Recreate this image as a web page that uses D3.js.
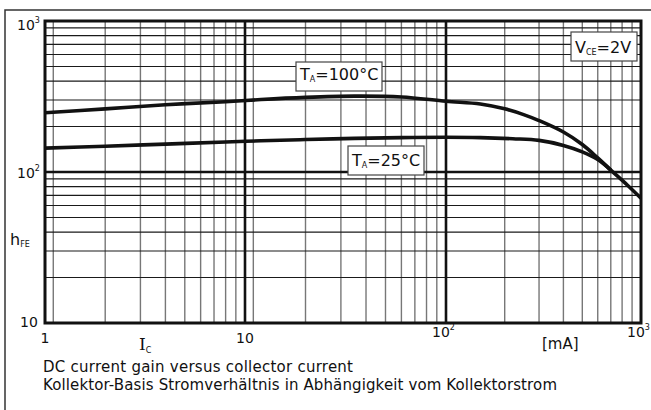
<!DOCTYPE html>
<html><head><meta charset="utf-8">
<script src="https://cdn.jsdelivr.net/npm/d3@7"></script>
<style>body{margin:0;background:#fff}svg{display:block}text{font-family:"DejaVu Sans",Verdana,sans-serif;fill:#111}</style>
</head><body>
<svg id="c" width="651" height="410"></svg>
<script>
// Data
const currentMA = [1, 2, 4, 8, 12, 20, 35, 60, 100, 150, 200, 250, 300, 400, 500, 600, 700, 850, 1000];
const hfe100C   = [247, 262, 279, 292, 302, 312, 318, 314, 294, 282, 262, 240, 219, 184, 152, 124, 103, 82, 67];
const current25 = [1, 2, 4, 8, 12, 20, 35, 60, 100, 150, 220, 300, 400, 500, 600, 700];
const hfe25C    = [144, 148, 153, 158, 161, 164, 167, 169, 170, 169, 166, 162, 150, 136, 121, 103];
const xMajor = [10, 100];
const xMinor = [1.1, 2, 3, 4, 5, 6, 7, 8, 9, 11, 20, 30, 40, 50, 60, 70, 80, 90, 200, 300, 400, 500, 600, 700, 800, 900];
const yMajor = [100];
const yMinor = [20, 30, 40, 50, 60, 70, 80, 90, 200, 300, 400, 500, 600, 700, 800, 900];

const svg = d3.select("#c");
const x = d3.scaleLog().domain([1, 10, 100, 1000]).range([45, 245, 446, 641]);
const y = d3.scaleLog().domain([10, 1000]).range([323, 21]);
const L = 45, R = 641, T = 21, B = 323;

// outer frame
svg.append("rect").attr("x", 5).attr("y", 10).attr("width", 700).attr("height", 460)
  .attr("fill", "none").attr("stroke", "#333").attr("stroke-width", 1.5);

const g = svg.append("g");
g.selectAll(".vmin").data(xMinor).join("line")
  .attr("x1", d => x(d)).attr("x2", d => x(d)).attr("y1", T).attr("y2", B)
  .attr("stroke", "#777").attr("stroke-width", 1.4);
g.selectAll(".hmin").data(yMinor).join("line")
  .attr("x1", L).attr("x2", R).attr("y1", d => y(d)).attr("y2", d => y(d))
  .attr("stroke", "#1a1a1a").attr("stroke-width", 1.1);
g.selectAll(".vmaj").data(xMajor).join("line")
  .attr("x1", d => x(d)).attr("x2", d => x(d)).attr("y1", T).attr("y2", B)
  .attr("stroke", "#111").attr("stroke-width", 2.6);
g.selectAll(".hmaj").data(yMajor).join("line")
  .attr("x1", L).attr("x2", R).attr("y1", d => y(d)).attr("y2", d => y(d))
  .attr("stroke", "#111").attr("stroke-width", 2.6);

// curves
svg.append("clipPath").attr("id", "pc").append("rect")
  .attr("x", L).attr("y", T).attr("width", R - L).attr("height", B - T);
const line = d3.line().x(d => x(d[0])).y(d => y(d[1])).curve(d3.curveCatmullRom.alpha(0.5));
const cg = svg.append("g").attr("clip-path", "url(#pc)");
cg.append("path").datum(currentMA.map((c, i) => [c, hfe100C[i]])).attr("d", line)
  .attr("fill", "none").attr("stroke", "#111").attr("stroke-width", 3.6);
cg.append("path").datum(current25.map((c, i) => [c, hfe25C[i]])).attr("d", line)
  .attr("fill", "none").attr("stroke", "#111").attr("stroke-width", 3.6);

// plot border
svg.append("rect").attr("x", L).attr("y", T).attr("width", R - L).attr("height", B - T)
  .attr("fill", "none").attr("stroke", "#111").attr("stroke-width", 3);

// Label boxes
function box(bx, by, bw, bh) {
  svg.append("rect").attr("x", bx).attr("y", by).attr("width", bw).attr("height", bh)
    .attr("fill", "#fff").attr("stroke", "#444").attr("stroke-width", 1.2);
}
function sub(tx, ty, main, s, rest, fs) {
  const t = svg.append("text").attr("x", tx).attr("y", ty).attr("font-size", fs);
  t.append("tspan").text(main);
  t.append("tspan").attr("font-size", fs * 0.5).attr("dy", 2).text(s);
  t.append("tspan").attr("dy", -2).text(rest);
  return t;
}
box(296, 62, 86, 29); sub(300, 80, "T", "A", "=100°C", 16);
box(348, 146, 76, 29); sub(352, 166, "T", "A", "=25°C", 16);
box(571, 32, 66, 29); sub(575, 53, "V", "CE", "=2V", 16);

// y tick labels
function pow(tx, ty, exp) {
  const t = svg.append("text").attr("x", tx).attr("y", ty).attr("font-size", 14);
  t.append("tspan").text("10");
  if (exp) t.append("tspan").attr("font-size", 8).attr("dy", -7).text(exp);
  return t;
}
pow(17, 30, "3");
pow(17, 178, "2");
svg.append("text").attr("x", 20).attr("y", 327).attr("font-size", 14).text("10");

// x tick labels
svg.append("text").attr("x", x(1)).attr("y", 343).attr("font-size", 14).attr("text-anchor", "middle").text("1");
svg.append("text").attr("x", x(10)).attr("y", 343).attr("font-size", 14).attr("text-anchor", "middle").text("10");
pow(432, 337, "2");
pow(627, 337, "3");
svg.append("text").attr("x", 542).attr("y", 349).attr("font-size", 15).text("[mA]");

// axis names
const h = svg.append("text").attr("x", 10).attr("y", 245).attr("font-size", 16);
h.append("tspan").text("h");
h.append("tspan").attr("font-size", 8).attr("dy", 2).text("FE");
const ic = svg.append("text").attr("x", 139).attr("y", 350).attr("font-size", 17)
  .style("font-family", "'DejaVu Serif',serif");
ic.append("tspan").text("I");
ic.append("tspan").attr("font-size", 8).attr("dy", 3).style("font-family", "'DejaVu Sans',sans-serif").text("C");

// captions
svg.append("text").attr("x", 43).attr("y", 372).attr("font-size", 15).attr("textLength", 310)
  .text("DC current gain versus collector current");
svg.append("text").attr("x", 43).attr("y", 390).attr("font-size", 15).attr("textLength", 514)
  .text("Kollektor-Basis Stromverhältnis in Abhängigkeit vom Kollektorstrom");
</script>
</body></html>
